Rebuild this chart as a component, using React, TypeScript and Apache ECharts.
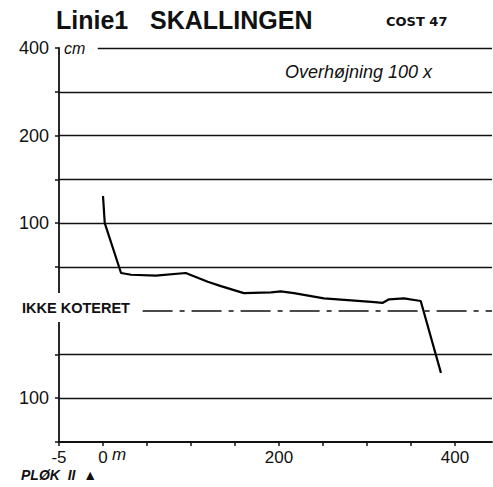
import React, { useEffect, useRef } from "react";
import * as echarts from "echarts";

// Profile distance (m) and height (cm)
const distances = [0, 2, 20.5, 32, 60, 94, 119, 134, 160, 191, 202, 217, 251, 305, 318, 325, 342, 361, 384];
const heights = [131, 100, 43, 41, 40, 43, 33, 28, 20, 21, 22, 20, 14, 10, 9, 13, 14, 11, -71];

// Horizontal reference levels (cm)
const gridLevels = [300, 250, 200, 150, 100, 50, -50, -100];
const unsurveyedLevel = 0;
const yTickLabels: Record<string, string> = { "300": "400", "200": "200", "100": "100", "-100": "100" };
const xTickLabels: Record<string, string> = { "-50": "-5", "0": "0", "200": "200", "400": "400" };

const X_MIN = -50;
const X_MAX = 442;

export default function App() {
  const ref = useRef<HTMLDivElement>(null);
  useEffect(() => {
    if (!ref.current) return;
    const chart = echarts.init(ref.current, null, { renderer: "svg" });
    const markData = gridLevels.map((lvl) => [
      { coord: [lvl === 300 ? -6 : X_MIN, lvl] },
      { coord: [X_MAX, lvl] },
    ]);
    chart.setOption({
      animation: false,
      backgroundColor: "#fff",
      grid: { left: 59, top: 48, right: 1, bottom: 45, containLabel: false },
      xAxis: {
        type: "value",
        min: X_MIN,
        max: X_MAX,
        interval: 50,
        axisLine: { show: true, onZero: false, lineStyle: { color: "#111", width: 1.8 } },
        axisTick: { show: true, length: 4, lineStyle: { color: "#111", width: 1.5 } },
        splitLine: { show: false },
        axisLabel: {
          margin: 7,
          fontSize: 17,
          color: "#111",
          fontFamily: "Liberation Sans",
          showMaxLabel: false,
          formatter: (v: number) => xTickLabels[String(v)] ?? "",
        },
      },
      yAxis: {
        type: "value",
        min: -150,
        max: 300,
        interval: 50,
        axisLine: { show: true, onZero: false, lineStyle: { color: "#111", width: 1.8 } },
        axisTick: { show: true, length: 4, lineStyle: { color: "#111", width: 1.5 } },
        splitLine: { show: false },
        axisLabel: {
          margin: 10,
          fontSize: 18,
          color: "#111",
          fontFamily: "Liberation Sans",
          formatter: (v: number) => yTickLabels[String(v)] ?? "",
        },
      },
      series: [
        {
          type: "line",
          data: distances.map((d, i) => [d, heights[i]]),
          showSymbol: false,
          symbol: "none",
          lineStyle: { color: "#000", width: 2.2 },
          markLine: {
            silent: true,
            symbol: ["none", "none"],
            label: { show: false },
            lineStyle: { color: "#111", width: 1.3, type: "solid" },
            data: markData,
          },
          z: 5,
        },
        {
          type: "line",
          data: [],
          markLine: {
            silent: true,
            symbol: ["none", "none"],
            label: { show: false },
            lineStyle: { color: "#111", width: 1.6, type: [30, 7, 5, 7] },
            data: [[{ coord: [45, unsurveyedLevel] }, { coord: [X_MAX, unsurveyedLevel] }]],
          },
          z: 4,
        },
      ],
      graphic: [
        {
          type: "text",
          left: 56,
          top: 7,
          z: 100,
          style: { text: "Linie1", fontSize: 25, fontWeight: "bold", fontFamily: "Liberation Sans", fill: "#111" },
        },
        {
          type: "text",
          left: 150,
          top: 7,
          z: 100,
          style: { text: "SKALLINGEN", fontSize: 25, fontWeight: "bold", fontFamily: "Liberation Sans", fill: "#111" },
        },
        {
          type: "text",
          left: 386,
          top: 15,
          z: 100,
          style: { text: "COST 47", fontSize: 13, fontWeight: "bold", fontFamily: "DejaVu Sans", fill: "#111" },
        },
        {
          type: "text",
          left: 64,
          top: 40,
          z: 100,
          style: { text: "cm", fontSize: 16, fontStyle: "italic", fontFamily: "Liberation Sans", fill: "#111" },
        },
        {
          type: "text",
          left: 285,
          top: 63,
          z: 100,
          style: { text: "Overhøjning 100 x", fontSize: 18, fontStyle: "italic", fontFamily: "Liberation Sans", fill: "#111" },
        },
        {
          type: "text",
          left: 20,
          top: 293,
          z: 100,
          style: {
            text: "IKKE KOTERET",
            fontSize: 14.5,
            fontWeight: "bold",
            fontFamily: "Liberation Sans",
            fill: "#111",
            backgroundColor: "#fff",
            padding: [7, 2, 7, 2],
          },
        },
        {
          type: "text",
          left: 112,
          top: 446,
          z: 100,
          style: { text: "m", fontSize: 17, fontStyle: "italic", fontFamily: "Liberation Sans", fill: "#111" },
        },
        {
          type: "text",
          left: 21,
          top: 468,
          z: 100,
          style: { text: "PLØK  II  ▲", fontSize: 14, fontStyle: "italic", fontWeight: "bold", fontFamily: "Liberation Sans", fill: "#111" },
        },
      ],
    });
    return () => chart.dispose();
  }, []);
  return (
    <div
      ref={ref}
      style={{ position: "absolute", left: 0, top: 0, width: 493, height: 487 }}
    />
  );
}
